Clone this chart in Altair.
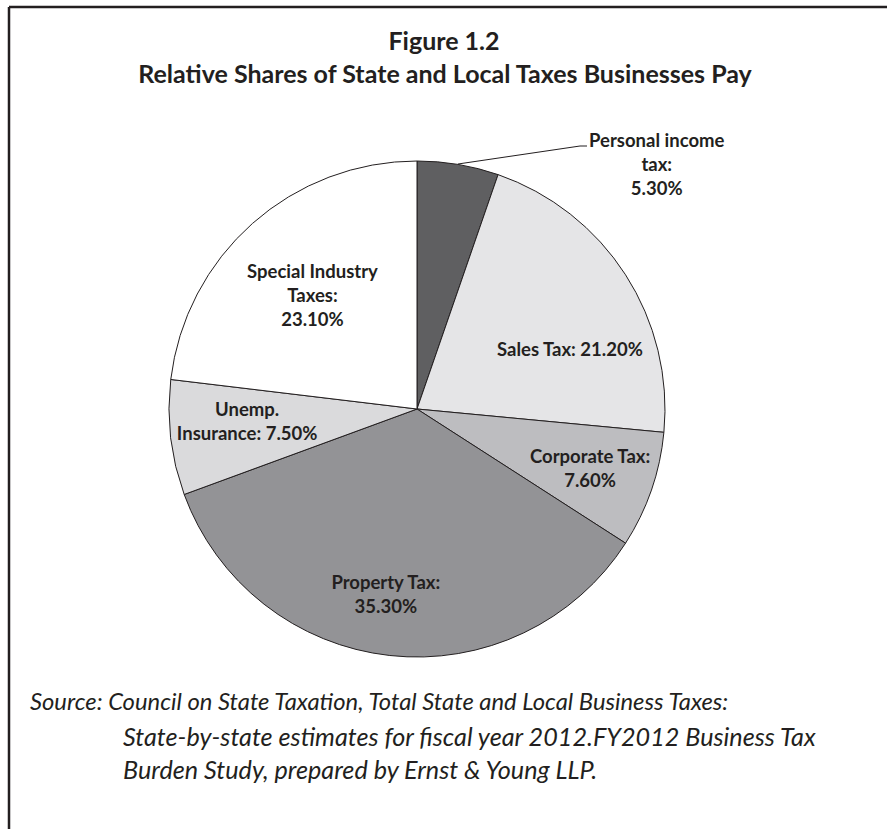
import altair as alt
import pandas as pd

# ---- data ----
categories = ["Personal income tax", "Sales Tax", "Corporate Tax", "Property Tax",
              "Unemp. Insurance", "Special Industry Taxes"]
shares = [5.3, 21.2, 7.6, 35.3, 7.5, 23.1]
label_texts = ["Personal income\ntax:\n5.30%", "Sales Tax: 21.20%", "Corporate Tax:\n7.60%",
               "Property Tax:\n35.30%", "Unemp.\nInsurance: 7.50%", "Special Industry\nTaxes:\n23.10%"]
slice_colors = ["#5f5f61", "#e5e5e7", "#bdbdc0", "#939396", "#dadadc", "#ffffff"]
title_lines = ["Figure 1.2", "Relative Shares of State and Local Taxes Businesses Pay"]
source_lines = ["Source: Council on State Taxation, Total State and Local Business Taxes:",
                "State-by-state estimates for fiscal year 2012.FY2012 Business Tax",
                "Burden Study, prepared by Ernst & Young LLP."]

df = pd.DataFrame({"category": categories, "share": shares, "label": label_texts,
                   "order": list(range(len(categories)))})
one = pd.DataFrame({"i": [0]})

CX, CY, R = 417, 409, 248
FONT = "Lato"
INK = "#231f20"
theta_scale = alt.Scale(domain=[0, 100])

base = alt.Chart(df)

pie = base.mark_arc(outerRadius=R, stroke=INK, strokeWidth=1).encode(
    theta=alt.Theta("share:Q", stack=True, scale=theta_scale),
    color=alt.Color("category:N", scale=alt.Scale(domain=categories, range=slice_colors), legend=None),
    order=alt.Order("order:Q"),
    x=alt.value(CX), y=alt.value(CY),
)


def slice_label(cat, radius, dx=0, dy=0):
    return (
        base.transform_window(cum="sum(share)", sort=[alt.SortField("order")])
        .transform_calculate(mid="datum.cum - datum.share / 2")
        .transform_filter(alt.datum.category == cat)
        .mark_text(radius=radius, dx=dx, dy=dy, font=FONT, fontWeight="bold", fontSize=18.5,
                   lineBreak="\n", lineHeight=24, color=INK, align="center", baseline="middle")
        .encode(theta=alt.Theta("mid:Q", scale=theta_scale), text="label:N",
                x=alt.value(CX), y=alt.value(CY))
    )


labels = [
    slice_label("Personal income tax", 300, 190, 28),
    slice_label("Sales Tax", 164, 15, 30),
    slice_label("Corporate Tax", 180, 3, -11),
    slice_label("Property Tax", 175, -12, 0),
    slice_label("Unemp. Insurance", 170, -1, -19),
    slice_label("Special Industry Taxes", 153, -3, -23),
]

leader = alt.Chart(one).mark_rule(color=INK, strokeWidth=1).encode(
    x=alt.value(458), y=alt.value(164), x2=alt.value(580), y2=alt.value(146))
leader2 = alt.Chart(one).mark_rule(color=INK, strokeWidth=1).encode(
    x=alt.value(580), y=alt.value(146), x2=alt.value(587), y2=alt.value(146))

border_top = alt.Chart(one).mark_rule(color=INK, strokeWidth=2.5).encode(
    x=alt.value(9), x2=alt.value(887), y=alt.value(7), y2=alt.value(7))
border_left = alt.Chart(one).mark_rule(color=INK, strokeWidth=2.5).encode(
    x=alt.value(9), x2=alt.value(9), y=alt.value(7), y2=alt.value(829))


def text_line(txt, x, y, size, weight="normal", style="normal", align="center"):
    return alt.Chart(one).mark_text(text=txt, font=FONT, fontSize=size, fontWeight=weight,
                                    fontStyle=style, color=INK, align=align,
                                    baseline="middle").encode(x=alt.value(x), y=alt.value(y))


titles = [
    text_line(title_lines[0], 444, 42, 25, weight="bold"),
    text_line(title_lines[1], 445, 75, 25, weight="bold"),
]
sources = [
    text_line(source_lines[0], 30, 703, 23.8, style="italic", align="left"),
    text_line(source_lines[1], 123, 738, 25.2, style="italic", align="left"),
    text_line(source_lines[2], 123, 771, 25.2, style="italic", align="left"),
]

chart = alt.layer(
    border_top, border_left, pie, leader, leader2, *labels, *titles, *sources
).properties(
    width=887, height=829, autosize=alt.AutoSizeParams(type="none"), padding=0, background="white"
).configure_view(stroke=None)

chart.save("out.html", embed_options={"renderer": "svg", "actions": False})
